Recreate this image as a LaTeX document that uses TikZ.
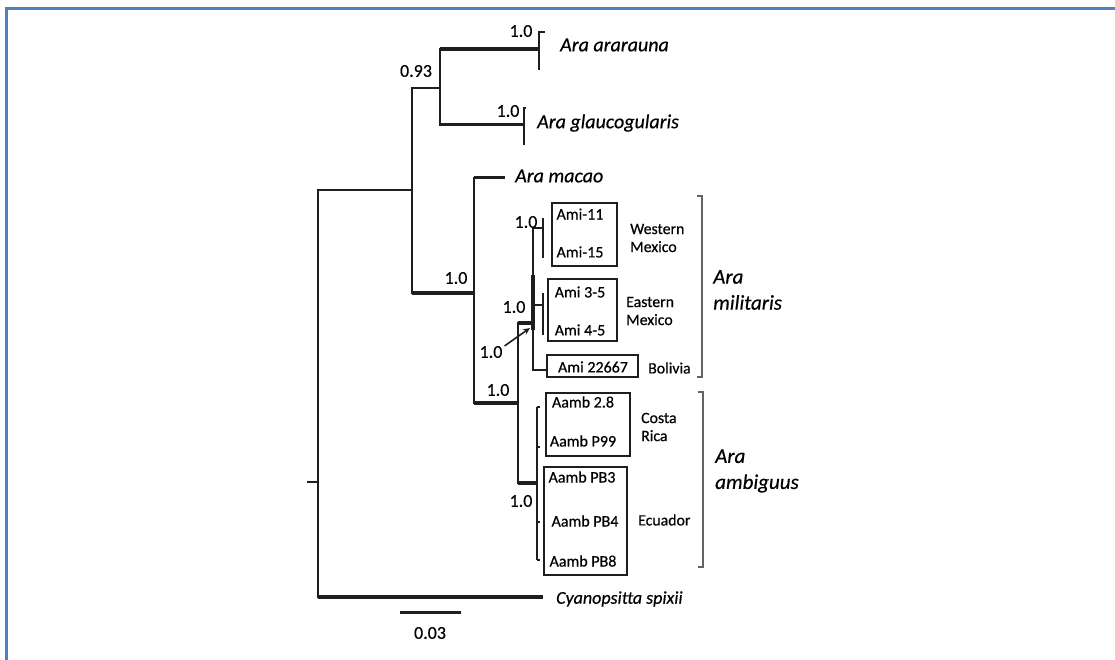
\documentclass[tikz,border=0pt]{standalone}
\usepackage{fontspec}
\setmainfont{Carlito}[FakeBold=0.5]
\usepackage{tikz}
\usetikzlibrary{arrows.meta, positioning, calc}
\definecolor{framebl}{RGB}{79,129,189}
\definecolor{treeblk}{RGB}{30,30,30}
\definecolor{brkgray}{RGB}{100,100,100}

\begin{document}
\begin{tikzpicture}[x=1pt, y=-1pt,
  br/.style={draw=treeblk, line width=2.2pt},
  brt/.style={draw=treeblk, line width=1.6pt},
  brm/.style={draw=treeblk, line width=3pt},
  thk/.style={draw=treeblk, line width=4.2pt},
  spname/.style={font=\fontsize{20}{24}\selectfont\itshape, anchor=west, inner sep=0pt},
  supp/.style={font=\fontsize{18}{21}\selectfont, inner sep=0pt},
  smp/.style={font=\fontsize{16}{19}\selectfont, inner sep=0pt},
  reg/.style={font=\fontsize{15.8}{18}\selectfont, anchor=west, align=left, inner sep=0pt},
  clade/.style={font=\fontsize{21}{26}\selectfont\itshape, anchor=west, align=left, inner sep=0pt},
  grp/.style={draw=treeblk, line width=1.6pt},
  brk/.style={draw=brkgray, line width=1.6pt}
]
  \useasboundingbox (0,0) rectangle (1115,660);

  % page frame (open at right and bottom)
  \draw[framebl, line width=3pt] (1115,9) -- (6.5,9) -- (6.5,660);

  % internal nodes: x of the vertical bar, y where the parent branch comes in
  \coordinate (rts) at (307,482);
  \coordinate (rt)  at (318,482);
  \coordinate (nA)  at (412,190);
  \coordinate (nB)  at (440,88);
  \coordinate (nC)  at (474,293);
  \coordinate (nD)  at (518,403);
  \coordinate (nE)  at (533,323);
  \coordinate (nG)  at (537,483);

  % tips
  \coordinate (tArar)  at (539,49);
  \coordinate (tGlau)  at (524,125);
  \coordinate (tMac)   at (505,178);
  \coordinate (tCyan)  at (543,597);
  \coordinate (tWest)  at (543,228);
  \coordinate (tEast)  at (543,305);
  \coordinate (tBol)   at (547,370);

  % root
  \draw[br] (rts) -- (rt);
  \draw[br] (rt) |- (nA);
  \draw[br] (rt) |- (tCyan);
  \draw[thk] (rt |- tCyan) -- (tCyan);

  % upper part
  \draw[br] (nA) |- (nB);
  \draw[br] (nA) |- (nC);
  \draw[thk] (nA |- nC) -- (nC);
  \draw[br] (nB) |- (tArar);
  \draw[thk] (nB |- tArar) -- (tArar);
  \draw[br] (nB) |- (tGlau);
  \draw[brm] (nB |- tGlau) -- (tGlau);

  % collapsed tips of the two upper species
  \draw[brt] ($(tArar)+(6,-17)$) -| ($(tArar)+(0,21)$);
  \draw[brt] ($(tGlau)+(2,-17)$) -| ($(tGlau)+(0,20)$);

  % Ara macao and the military / great green macaws
  \draw[br] (nC) |- (tMac);
  \draw[brm] (nC |- tMac) -- (tMac);
  \draw[br] (nC) |- (nD);
  \draw[thk] (nC |- nD) -- (nD);
  \draw[br] (nD) |- (nE);
  \draw[thk] (nD |- nE) -- (nE);
  \draw[br] (nD) |- (nG);
  \draw[thk] (nD |- nG) -- (nG);

  % Ara militaris
  \draw[brt] (nE) |- (tWest);
  \draw[brt] (nE) |- (tEast);
  \draw[brt] (nE) |- (tBol);
  \draw[line width=3.5pt, treeblk] ($(nE)+(0,-48)$) -- ($(nE)+(0,7)$);
  \draw[brt] ($(tWest)+(0,-10)$) -- ($(tWest)+(0,30)$);
  \draw[brt] ($(tEast)+(0,-12)$) -- ($(tEast)+(0,30)$);

  % Ara ambiguus
  \draw[br] ($(nG)+(0,-76)$) -- ($(nG)+(0,77)$);
  \foreach \yy in {-76,-36,39,77}
    \draw[brt] ($(nG)+(0,\yy)$) -- ++(3,0);

  % support values
  \node[supp] (s093)  at (416,71)  {0.93};
  \node[supp] (sArar) at (521,31)  {1.0};
  \node[supp] (sGlau) at (508,111) {1.0};
  \node[supp] (sC)    at (456,278) {1.0};
  \node[supp] (sWest) at (526,222) {1.0};
  \node[supp] (sEast) at (514,307) {1.0};
  \node[supp] (sArr)  at (491,352) {1.0};
  \node[supp] (sD)    at (498,390) {1.0};
  \node[supp] (sG)    at (521,501) {1.0};
  \coordinate (arrTip) at (530,328);
  \draw[brt, -{Stealth[length=7pt, width=6pt]}] (sArr.north east) ++(2,0) -- (arrTip);

  % species names
  \node[spname] (lArar) at (560,45)  {Ara ararauna};
  \node[spname] (lGlau) at (537,123) {Ara glaucogularis};
  \node[spname] (lMac)  at (515,176) {Ara macao};
  \node[spname, font=\fontsize{18}{22}\selectfont\itshape] (lCyan) at (556,599) {Cyanopsitta spixii};

  % sample boxes
  \draw[grp] (552,203) rectangle (617,266);
  \draw[grp] (548,279) rectangle (617,341);
  \draw[grp] (547,355) rectangle (638,377);
  \draw[grp] (546,393) rectangle (630,456);
  \draw[grp] (544,467) rectangle (627,575);

  \node[smp] (m11)  at (580,214) {Ami-11};
  \node[smp] (m15)  at (580,252) {Ami-15};
  \node[smp] (m35)  at (580,292) {Ami 3-5};
  \node[smp] (m45)  at (580,330) {Ami 4-5};
  \node[smp] (m226) at (593,367) {Ami 22667};
  \node[smp] (a28)  at (583,402) {Aamb 2.8};
  \node[smp] (a99)  at (583,441) {Aamb P99};
  \node[smp] (ab3)  at (582,477) {Aamb PB3};
  \node[smp] (ab4)  at (585,521) {Aamb PB4};
  \node[smp] (ab8)  at (583,561) {Aamb PB8};

  % regions
  \node[reg] (rWest) at (630,238) {Western\\Mexico};
  \node[reg] (rEast) at (626,311) {Eastern\\Mexico};
  \node[reg] (rBol)  at (648,368) {Bolivia};
  \node[reg] (rCR)   at (641,427) {Costa\\Rica};
  \node[reg] (rEcu)  at (638,520) {Ecuador};

  % clade brackets
  \draw[brk] (697,196) -- (702,196) -- (702,377) -- (697,377);
  \draw[brk] (698,392) -- (703,392) -- (703,567) -- (698,567);
  \node[clade] (cMil) at (713,290) {Ara\\militaris};
  \node[clade] (cAmb) at (715,471) {Ara\\ambiguus};

  % scale bar
  \draw[treeblk, line width=3pt] (400,612) -- (461,612);
  \node[supp] (scale) at (430,633) {0.03};
\end{tikzpicture}
\end{document}
